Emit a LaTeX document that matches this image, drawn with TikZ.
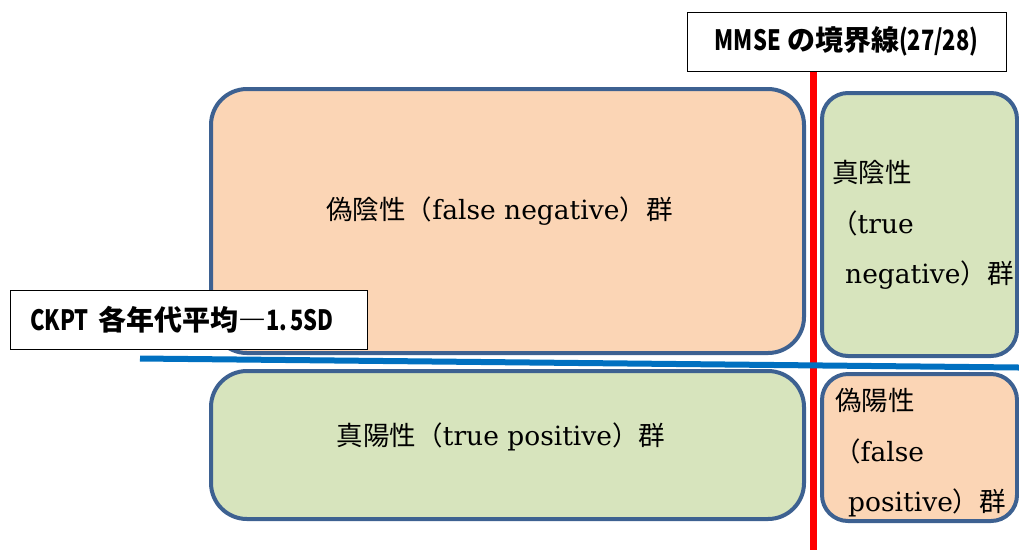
\documentclass[tikz,border=0pt]{standalone}
\usepackage{fontspec}
\setmainfont{DejaVu Serif}
\newfontfamily\jp{Noto Sans CJK JP}
\newcommand\J[1]{{\jp #1}}
\newcommand\Nr[1]{\scalebox{0.78}[1]{#1}}
\definecolor{orng}{HTML}{FBD5B5}
\definecolor{grn}{HTML}{D7E4BD}
\definecolor{bord}{HTML}{3D6191}
\definecolor{blu}{HTML}{0070C0}
\tikzset{
  box/.style={draw=bord, line width=4pt, rounded corners=36pt, inner sep=0pt},
  sbox/.style={draw=bord, line width=4pt, rounded corners=26pt, inner sep=0pt},
  txt/.style={inner sep=0pt, font=\fontsize{26.5}{30}\selectfont},
  lbl/.style={draw=black, line width=1pt, fill=white, inner sep=0pt, font=\fontsize{28}{30}\selectfont\jp\bfseries},
}
\begin{document}
\begin{tikzpicture}[x=1pt,y=-1pt]
\useasboundingbox (0,0) rectangle (1019,550);
% boxes
\node[box, fill=orng, minimum width=593pt, minimum height=264pt] (fn) at (507.5,221) {};
\node[sbox, fill=grn, minimum width=195pt, minimum height=263pt] (tn) at (919.5,224.5) {};
\node[box, fill=grn, minimum width=593pt, minimum height=148pt] (tp) at (507.5,445) {};
\node[sbox, fill=orng, minimum width=195pt, minimum height=147pt] (fp) at (919.5,447.5) {};
% texts
\node[txt] (fnt) at (499.5,211) {\J{偽陰性（}false negative\J{）群}};
\node[txt] (tpt) at (501,437) {\J{真陽性（}true positive\J{）群}};
\node[txt, anchor=base west] (tn1) at (832,182) {\J{真陰性}};
\node[txt, anchor=base west] (tn2) at (831,233) {\J{（}true};
\node[txt, anchor=base west] (tn3) at (845,283) {negative\J{）群}};
\node[txt, anchor=base west] (fp1) at (835,410) {\J{偽陽性}};
\node[txt, anchor=base west] (fp2) at (834,461) {\J{（}false};
\node[txt, anchor=base west] (fp3) at (848,511) {positive\J{）群}};
% red line
\coordinate (rtop) at (813.5,71);
\coordinate (rbot) at (813.5,550);
\draw[red, line width=7pt] (rtop) -- (rbot);
% blue line
\coordinate (bl) at (140,358.5);
\coordinate (br) at (1019,367.5);
\draw[blu, line width=6pt] (bl) -- (br);
% labels
\node[lbl, minimum width=319pt, minimum height=59pt] (mmse) at (846.5,41.5) {\Nr{MMSE} の境界線\Nr{(27/28)}};
\node[lbl, minimum width=357pt, minimum height=59pt, text width=317pt, align=left] (ckpt) at (188.5,319.5) {\Nr{CKPT} 各年代平均―\Nr{1.\,5SD}};
\end{tikzpicture}
\end{document}
